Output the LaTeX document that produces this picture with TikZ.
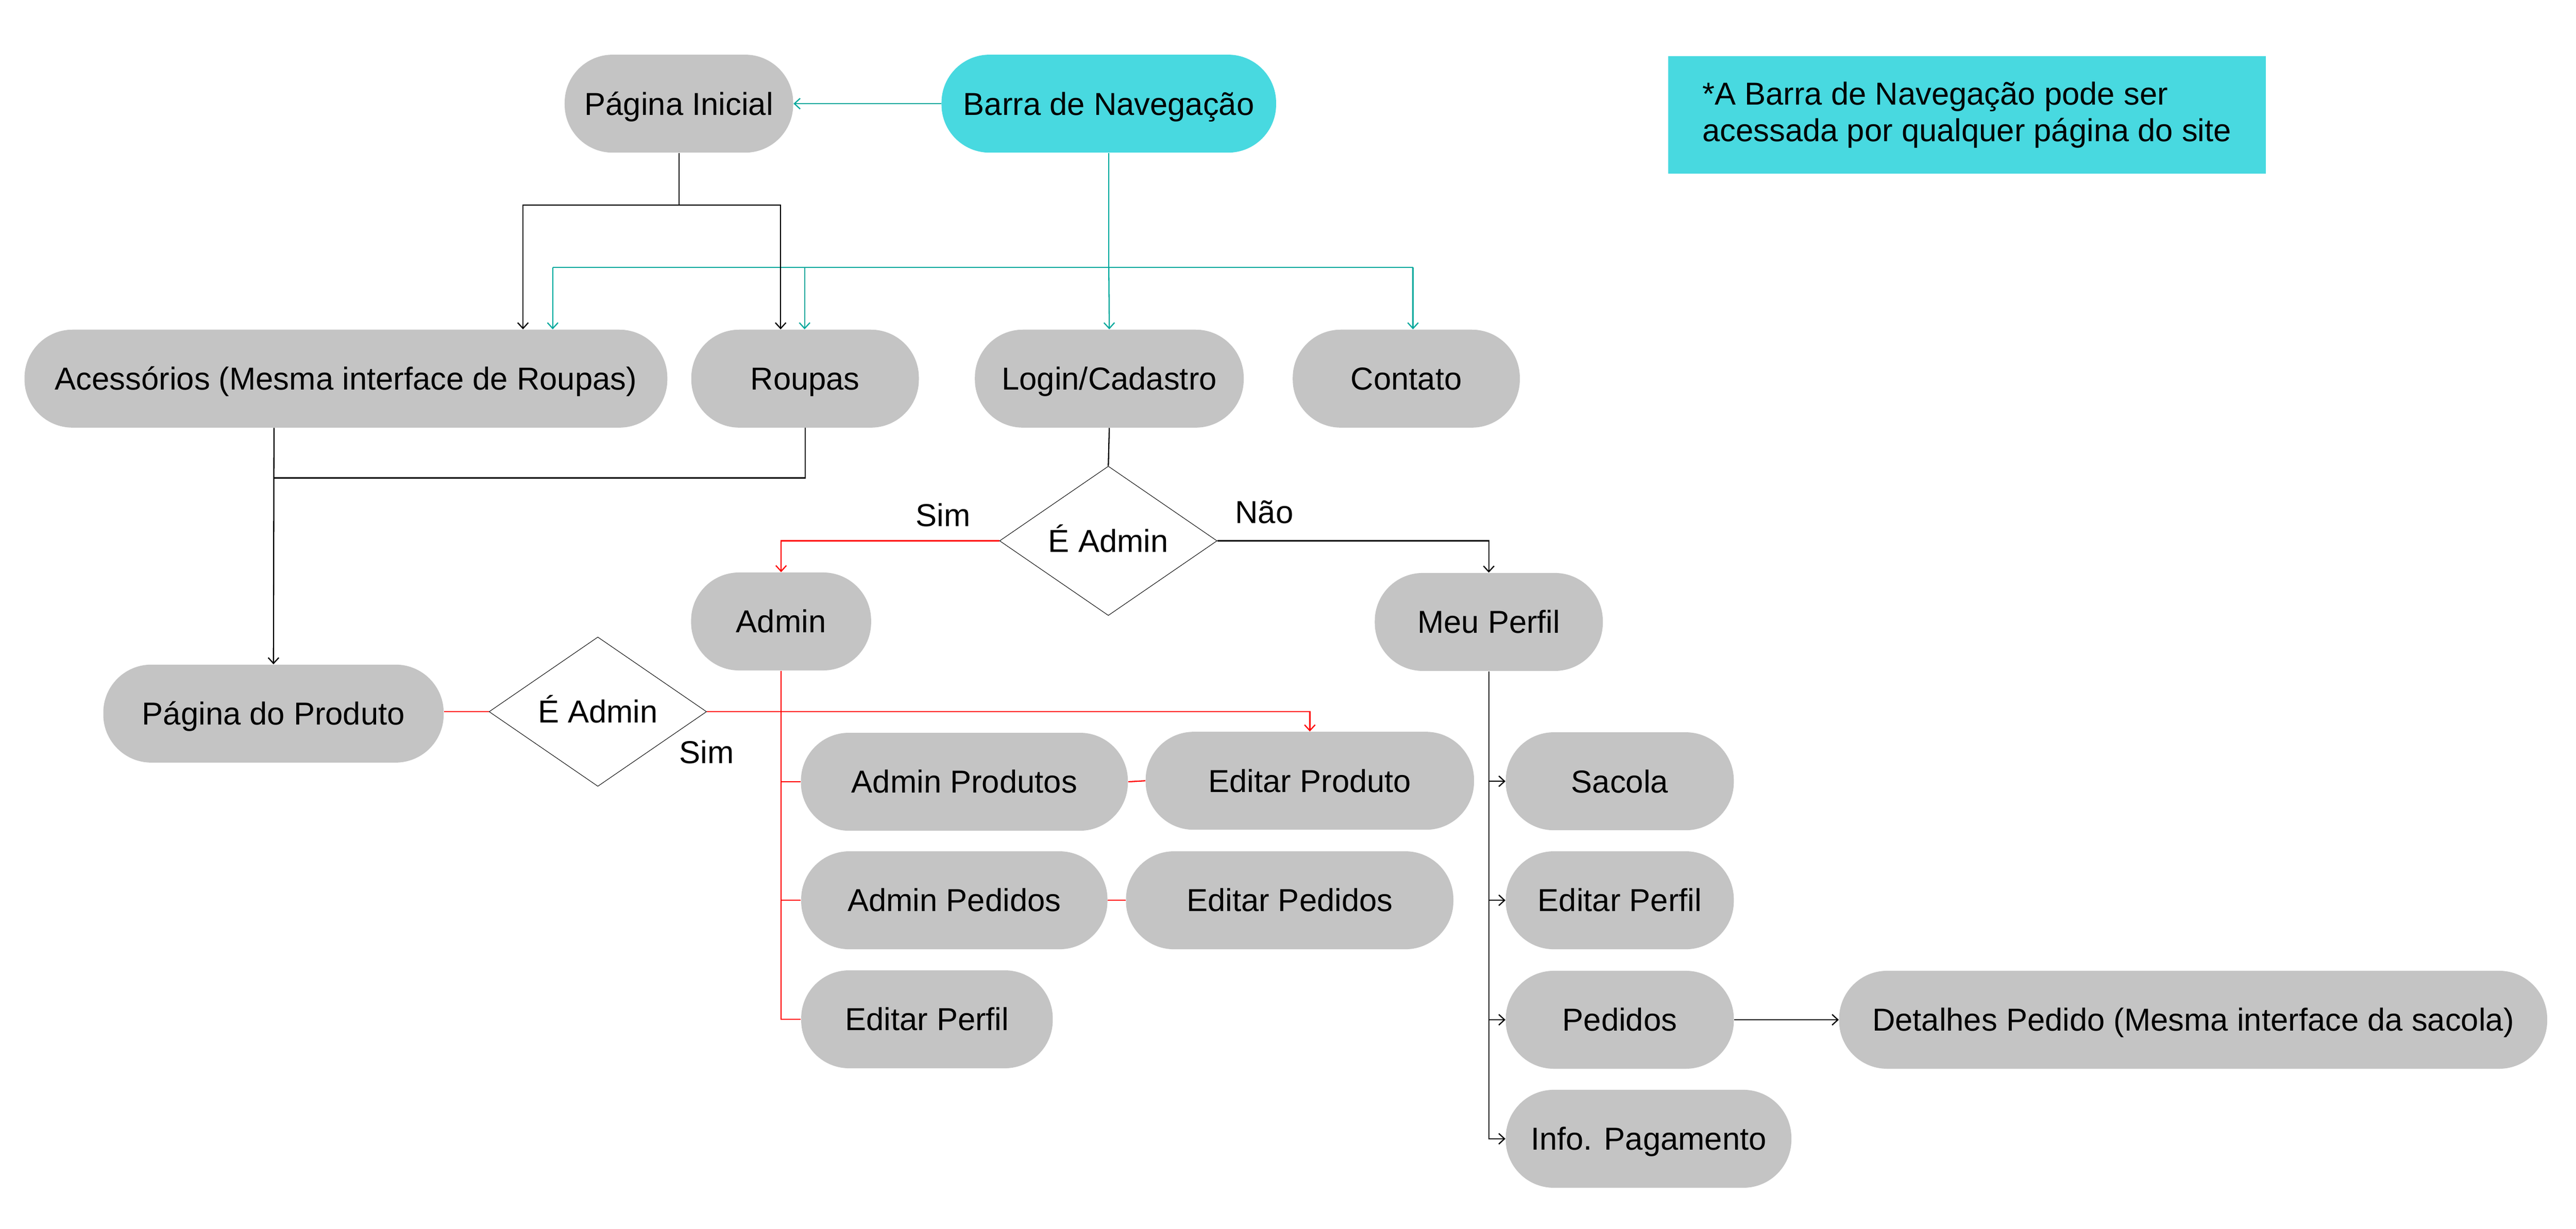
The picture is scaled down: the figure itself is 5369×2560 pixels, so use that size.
\documentclass[tikz,border=0pt]{standalone}
\usepackage{fontspec}
\setmainfont{Liberation Sans}
\usetikzlibrary{shapes.geometric,arrows.meta}
\definecolor{graybox}{HTML}{C4C4C4}
\definecolor{navfill}{HTML}{48D9E0}
\definecolor{navline}{HTML}{00A89C}
\definecolor{redline}{HTML}{FF0000}
\begin{document}
\begin{tikzpicture}[x=0.01cm,y=-0.01cm,
  every node/.style={font=\fontsize{18.8pt}{21.6pt}\selectfont},
  pill/.style={fill=graybox, rounded corners=1cm, minimum height=2.04cm, inner sep=0pt, text height=0.47cm, text depth=0pt},
  decision/.style={diamond, draw=black, line width=0.3pt, fill=white, minimum width=4.53cm, minimum height=3.11cm, inner sep=0pt, text height=0.47cm, text depth=0pt},
  conn/.style={line width=0.7pt, draw=black},
  tealconn/.style={line width=0.7pt, draw=navline},
  redconn/.style={line width=0.7pt, draw=redline},
  tip/.style={-{Straight Barb[length=0.12cm,width=0.22cm]}},
  lbl/.style={inner sep=0pt, text height=0.47cm, text depth=0pt}
]
\fill[white] (0,0) rectangle (5369,2560);
\useasboundingbox (0,0) rectangle (5369,2560);

% nodes
\node[pill, fill=navfill, minimum width=6.97cm] (barra) at (2311,216) {Barra de Navegação};
\node[pill, minimum width=4.76cm] (pagini) at (1415,216) {Página Inicial};
\node[fill=navfill, minimum width=12.45cm, minimum height=2.45cm, inner sep=0pt, align=left] (note) at (4099.5,239.5) {*A Barra de Navegação pode ser\\acessada por qualquer página do site};

\node[pill, minimum width=13.39cm] (acess) at (721,789) {Acessórios (Mesma interface de Roupas)};
\node[pill, minimum width=4.74cm] (roupas) at (1678,789) {Roupas};
\node[pill, minimum width=5.60cm] (login) at (2312,789) {Login/Cadastro};
\node[pill, minimum width=4.73cm] (contato) at (2931,789) {Contato};

\node[decision] (d1) at (2310,1127) {É Admin};
\node[pill, minimum width=3.75cm] (admin) at (1628,1295) {Admin};
\node[pill, minimum width=4.75cm] (meuperfil) at (3103,1296) {Meu Perfil};

\node[pill, minimum width=7.09cm] (pagprod) at (570,1487) {Página do Produto};
\node[decision] (d2) at (1246,1483) {É Admin};

\node[pill, minimum width=6.81cm] (adminprod) at (2010,1629) {Admin Produtos};
\node[pill, minimum width=6.84cm] (editprod) at (2730,1627) {Editar Produto};
\node[pill, minimum width=6.38cm] (adminped) at (1989,1876) {Admin Pedidos};
\node[pill, minimum width=6.82cm] (editped) at (2688,1876) {Editar Pedidos};
\node[pill, minimum width=5.24cm] (editperfA) at (1932,2124) {Editar Perfil};

\node[pill, minimum width=4.75cm] (sacola) at (3376,1628) {Sacola};
\node[pill, minimum width=4.75cm] (editperfU) at (3376,1876) {Editar Perfil};
\node[pill, minimum width=4.75cm] (pedidos) at (3376,2125) {Pedidos};
\node[pill, minimum width=5.95cm] (info) at (3436,2373) {Info. Pagamento};
\node[pill, minimum width=14.75cm] (detalhes) at (4571,2125) {Detalhes Pedido (Mesma interface da sacola)};

\node[lbl] (sim1) at (1966,1073) {Sim};
\node[lbl] (nao) at (2635,1067) {Não};
\node[lbl] (sim2) at (1473,1567) {Sim};

% teal connectors
\coordinate (tj) at (2311,557);
\coordinate (tl) at (1152,557);
\coordinate (tr) at (2945,557);
\coordinate (tro) at (1677,557);
\draw[tealconn,tip] (barra.west) -- (pagini.east);
\draw[tealconn] (barra.south) -- (tj);
\draw[tealconn] (tl) -- (tr);
\draw[tealconn,tip] (tl) -- (tl |- acess.north);
\draw[tealconn,tip] (tro) -- (tro |- roupas.north);
\draw[tealconn,tip] (tj) -- (login.north);
\draw[tealconn,tip] (tr) -- (tr |- contato.north);

% black from Pagina Inicial
\coordinate (pj) at (1415,427);
\coordinate (pl) at (1090,427);
\coordinate (pr) at (1627,427);
\draw[conn] (pagini.south) -- (pj);
\draw[conn,tip] (pj) -- (pl) -- (pl |- acess.north);
\draw[conn,tip] (pj) -- (pr) -- (pr |- roupas.north);

% to Pagina do Produto
\coordinate (aj) at (571,996);
\draw[conn,tip] (aj |- acess.south) -- (pagprod.north);
\draw[conn] (roupas.south) |- (aj);

% login decision
\draw[conn] (login.south) -- (d1.north);
\draw[redconn,tip] (d1.west) -| (admin.north);
\draw[conn,tip] (d1.east) -| (meuperfil.north);

% product decision
\draw[redconn] (d2.west -| pagprod.east) -- (d2.west);
\draw[redconn,tip] (d2.east) -| (editprod.north);

% admin tree
\draw[redconn] (admin.south) |- (editperfA.west);
\draw[redconn] (admin.south |- adminprod.west) -- (adminprod.west);
\draw[redconn] (admin.south |- adminped.west) -- (adminped.west);
\draw[redconn] (adminprod.east) -- (editprod.west);
\draw[redconn] (adminped.east) -- (editped.west);

% user tree
\draw[conn,tip] (meuperfil.south) |- (info.west);
\draw[conn,tip] (meuperfil.south |- sacola.west) -- (sacola.west);
\draw[conn,tip] (meuperfil.south |- editperfU.west) -- (editperfU.west);
\draw[conn,tip] (meuperfil.south |- pedidos.west) -- (pedidos.west);
\draw[conn,tip] (pedidos.east) -- (detalhes.west);
\end{tikzpicture}
\end{document}
